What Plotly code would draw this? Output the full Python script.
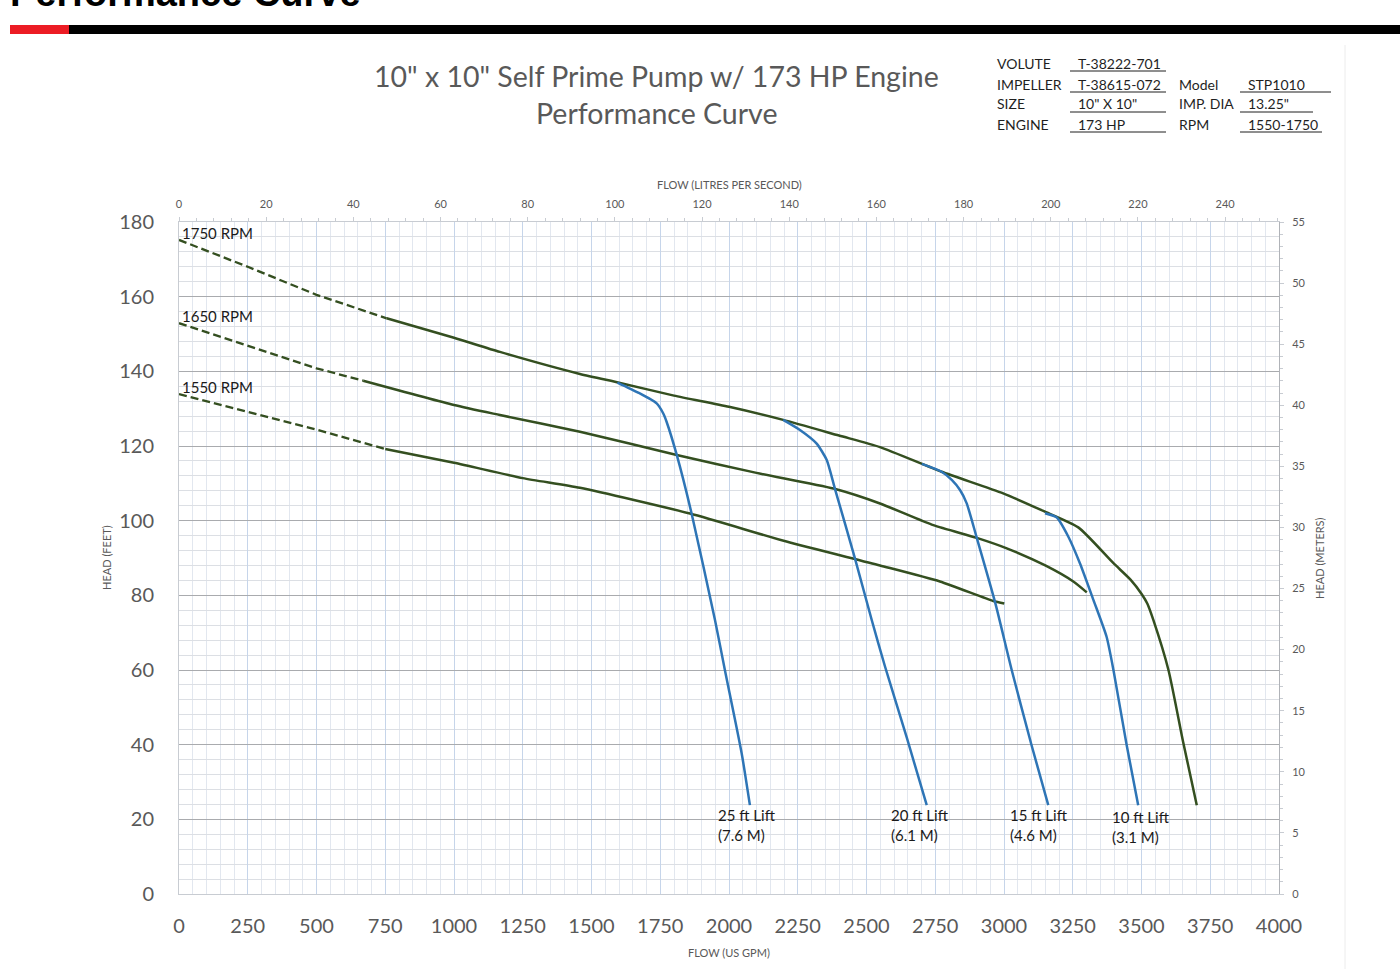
import plotly.graph_objects as go

# unit conversions for the secondary axes
GPM_PER_LPS = 15.850
M_PER_FT = 0.3048

# ---- pump curves (flow in US GPM, head in feet) ----
rpm_names = ["1750 RPM", "1650 RPM", "1550 RPM"]
dash_until = [755, 670, 750]  # curves are dashed from 0 up to this flow

flow_1750 = [0, 250, 500, 755, 1000, 1167, 1458, 1604, 1800, 2000, 2197, 2400, 2549,
             2773, 2997, 3143, 3270, 3398, 3460, 3501, 3521, 3543, 3598, 3652, 3701]
head_1750 = [175.2, 168.0, 160.5, 154.2, 149.0, 145.2, 139.3, 136.9, 133.5, 130.5, 127.0, 122.8, 119.7,
             113.1, 107.3, 102.6, 98.2, 88.6, 84.2, 80.3, 77.8, 73.4, 60.0, 40.5, 23.8]

flow_1650 = [0, 250, 500, 670, 1000, 1167, 1458, 1810, 2100, 2380, 2549, 2743, 2901, 3010, 3150, 3252, 3301]
head_1650 = [152.9, 146.8, 140.8, 137.5, 131.0, 128.3, 123.8, 117.6, 112.8, 108.6, 104.6, 98.8, 95.4,
             92.6, 88.0, 83.7, 80.8]

flow_1550 = [0, 343, 500, 750, 1000, 1250, 1458, 1858, 2209, 2549, 2767, 2961, 3001]
head_1550 = [133.9, 127.4, 124.4, 119.2, 115.5, 111.4, 108.8, 101.9, 94.4, 88.0, 83.7, 78.5, 77.8]

rpm_flows = [flow_1750, flow_1650, flow_1550]
rpm_heads = [head_1750, head_1650, head_1550]

# ---- suction lift curves ----
lift_names = ["25 ft Lift<br>(7.6 M)", "20 ft Lift<br>(6.1 M)", "15 ft Lift<br>(4.6 M)", "10 ft Lift<br>(3.1 M)"]

flow_25 = [1594, 1670, 1737, 1761, 1773, 1810, 1864, 1949, 1985, 2046, 2076]
head_25 = [137.0, 134.3, 131.4, 128.7, 126.5, 117.6, 101.9, 73.4, 60.0, 37.7, 23.8]

flow_20 = [2197, 2258, 2318, 2355, 2385, 2458, 2519, 2567, 2646, 2719]
head_20 = [127.0, 124.3, 120.7, 116.3, 108.6, 89.9, 73.4, 61.0, 42.0, 23.8]

flow_15 = [2701, 2773, 2810, 2840, 2864, 2901, 2967, 3028, 3100, 3161]
head_15 = [115.2, 113.1, 110.9, 108.2, 104.7, 95.4, 78.3, 60.0, 39.9, 23.8]

flow_10 = [3149, 3191, 3234, 3276, 3325, 3373, 3398, 3446, 3488]
head_10 = [102.0, 100.9, 95.7, 88.6, 78.8, 68.9, 60.0, 39.9, 23.8]

lift_flows = [flow_25, flow_20, flow_15, flow_10]
lift_heads = [head_25, head_20, head_15, head_10]

# ---- spec table ----
spec_labels_left = ["VOLUTE", "IMPELLER", "SIZE", "ENGINE"]
spec_values_left = ["T-38222-701", "T-38615-072", "10\" X 10\"", "173 HP"]
spec_labels_right = ["", "Model", "IMP. DIA", "RPM"]
spec_values_right = ["", "STP1010", "13.25\"", "1550-1750"]

GREEN = "#344f20"
BLUE = "#2e75b6"
GREY_TXT = "#595959"
FONT = "Lato"

W, H = 1400, 969
L, R, T, B = 179, 1279, 222, 894  # plot area in pixels
lift_label_nudge = [(-3, 0), (-7, 0), (-9, 0), (3, -2)]  # pixel offsets of the lift labels


def px(x):
    return (x - L) / (R - L)


def py(y):
    return (B - y) / (B - T)


def page_text(x, y, text, size, color=GREY_TXT, xanchor="center", **kw):
    fig.add_annotation(xref="paper", yref="paper", x=px(x), y=py(y), text=text, showarrow=False,
                       xanchor=xanchor, yanchor="middle", font=dict(size=size, color=color), **kw)


fig = go.Figure()

for name, fl, hd, split in zip(rpm_names, rpm_flows, rpm_heads, dash_until):
    dx = [f for f in fl if f <= split]
    dy = hd[:len(dx)]
    sx = fl[len(dx) - 1:]
    sy = hd[len(dx) - 1:]
    fig.add_trace(go.Scatter(x=dx, y=dy, mode="lines", showlegend=False,
                             line=dict(color=GREEN, width=2.3, dash="8px,4px")))
    fig.add_trace(go.Scatter(x=sx, y=sy, mode="lines", showlegend=False,
                             line=dict(color=GREEN, width=2.5, shape="spline", smoothing=0.6)))
    fig.add_annotation(x=0, y=hd[0], text=name, showarrow=False, xanchor="left", yanchor="bottom",
                       xshift=1, yshift=-4, font=dict(family=FONT, size=15, color="#1a1a1a"))

for name, fl, hd, (nx, ny) in zip(lift_names, lift_flows, lift_heads, lift_label_nudge):
    fig.add_trace(go.Scatter(x=fl, y=hd, mode="lines", showlegend=False,
                             line=dict(color=BLUE, width=2.5, shape="spline", smoothing=0.6)))
    fig.add_annotation(x=fl[-1], y=hd[-1], text=name, showarrow=False, xanchor="center", yanchor="top",
                       align="left", xshift=nx, yshift=1 + ny,
                       font=dict(family=FONT, size=15, color="#1a1a1a"))

# empty trace so the secondary axes get drawn
fig.add_trace(go.Scatter(x=[], y=[], xaxis="x2", yaxis="y2", showlegend=False))

fig.update_layout(
    width=W, height=H,
    margin=dict(l=L, r=W - R, t=T, b=H - B),
    paper_bgcolor="white", plot_bgcolor="white",
    font=dict(family=FONT, color=GREY_TXT),
    xaxis=dict(range=[0, 4000], dtick=250, tick0=0, showgrid=True, gridcolor="#c6d5ea", gridwidth=1,
               minor=dict(dtick=50, showgrid=True, gridcolor="#e2e7ef", gridwidth=1),
               showline=True, linecolor="#c8ccd2", zeroline=False, ticks="",
               tickfont=dict(size=20, color=GREY_TXT), ticklabelstandoff=14),
    yaxis=dict(range=[0, 180], dtick=20, tick0=0, showgrid=True, gridcolor="#a9abae", gridwidth=1,
               minor=dict(dtick=4, showgrid=True, gridcolor="#dcdfe4", gridwidth=1),
               showline=True, linecolor="#c8ccd2", zeroline=False, ticks="",
               tickfont=dict(size=20, color=GREY_TXT), ticklabelstandoff=20),
    xaxis2=dict(range=[0, 4000 / GPM_PER_LPS], dtick=20, tick0=0, overlaying="x", side="top",
                anchor="y", showgrid=False, zeroline=False, showline=True, linecolor="#c8ccd2",
                ticks="outside", ticklen=4, tickcolor="#c8ccd2",
                minor=dict(dtick=4, ticks="outside", ticklen=3, tickcolor="#c8ccd2"),
                tickfont=dict(size=11, color=GREY_TXT), ticklabelstandoff=5),
    yaxis2=dict(range=[0, 55], dtick=5, tick0=0, overlaying="y", side="right", anchor="x",
                showgrid=False, zeroline=False, showline=True, linecolor="#b0b3b8",
                ticks="outside", ticklen=4, tickcolor="#c8ccd2",
                minor=dict(dtick=1, ticks="outside", ticklen=3, tickcolor="#c8ccd2"),
                tickfont=dict(size=11, color=GREY_TXT), ticklabelstandoff=6),
)

# axis titles
page_text(729, 952, "FLOW (US GPM)", 11)
page_text(729, 184, "FLOW (LITRES PER SECOND)", 11)
page_text(106, 558, "HEAD (FEET)", 11, textangle=-90)
page_text(1319, 558, "HEAD (METERS)", 11, textangle=-90)

# chart title
page_text(656, 76, "10\" x 10\" Self Prime Pump w/ 173 HP Engine", 28.5)
page_text(656, 113, "Performance Curve", 28.5)

# page header (cut off at the top edge, as on the sheet)
fig.add_annotation(xref="paper", yref="paper", x=px(8), y=py(-7), text="<b>Performance Curve</b>",
                   xanchor="left", yanchor="middle", showarrow=False,
                   font=dict(family="Liberation Sans", size=38, color="black"))
fig.add_shape(type="rect", xref="paper", yref="paper", x0=px(10), x1=px(69), y0=py(34), y1=py(25),
              fillcolor="#ec1c24", line_width=0)
fig.add_shape(type="rect", xref="paper", yref="paper", x0=px(69), x1=px(1400), y0=py(34), y1=py(25),
              fillcolor="black", line_width=0)
fig.add_shape(type="line", xref="paper", yref="paper", x0=px(1345), x1=px(1345), y0=py(45), y1=py(969),
              line=dict(color="#ececec", width=1))

# spec table
row_y = [63, 84, 104, 124]
right_line_end = [0, 1331, 1313, 1322]
for i, yy in enumerate(row_y):
    page_text(995, yy, spec_labels_left[i], 14, color="#1f1f1f", xanchor="left")
    page_text(1076, yy, spec_values_left[i], 14, color="#1f1f1f", xanchor="left")
    fig.add_shape(type="line", xref="paper", yref="paper", x0=px(1070), x1=px(1166),
                  y0=py(yy + 8), y1=py(yy + 8), line=dict(color="#1f1f1f", width=1))
    if spec_labels_right[i]:
        page_text(1177, yy, spec_labels_right[i], 14, color="#1f1f1f", xanchor="left")
        page_text(1246, yy, spec_values_right[i], 14, color="#1f1f1f", xanchor="left")
        fig.add_shape(type="line", xref="paper", yref="paper", x0=px(1240), x1=px(right_line_end[i]),
                      y0=py(yy + 8), y1=py(yy + 8), line=dict(color="#1f1f1f", width=1))

# drop the page's default body margin so the figure sits at the window's corner
fig.write_html("out.html", config={"displayModeBar": False},
               post_script="document.body.style.margin='0';document.body.style.overflow='hidden';")
